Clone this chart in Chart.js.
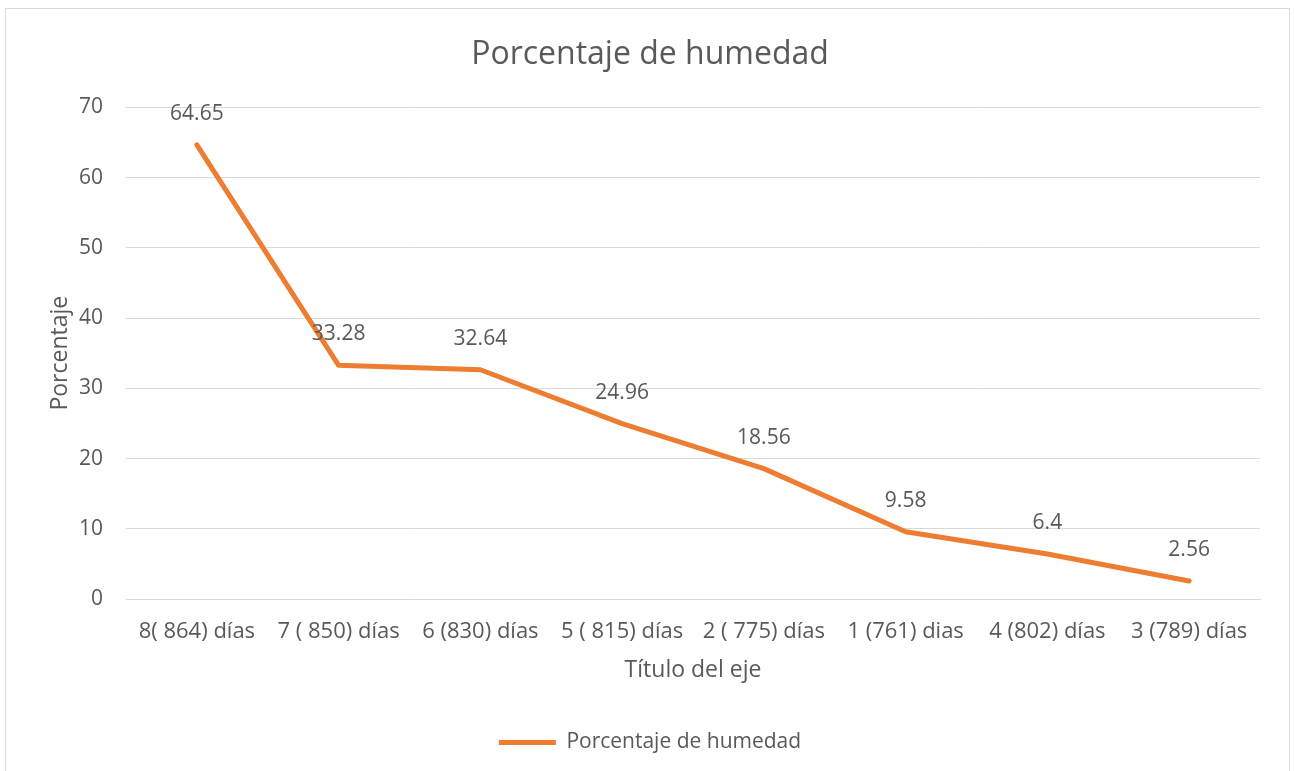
<!DOCTYPE html>
<html>
<head>
<meta charset="utf-8">
<script src="https://cdn.jsdelivr.net/npm/chart.js@4/dist/chart.umd.min.js"></script>
<style>
  html, body { margin: 0; padding: 0; background: #fff; overflow: hidden; }
  #wrap { position: relative; width: 1295px; height: 771px; }
  #frame { position: absolute; left: 5px; top: 8px; width: 1283px; height: 800px;
           border: 1px solid #d9d9d9; pointer-events: none; }
</style>
</head>
<body>
<div id="wrap">
  <canvas id="chart" width="1295" height="771"></canvas>
  <div id="frame"></div>
</div>
<script>
// datos
const categories = ['8( 864) días', '7 ( 850) días', '6 (830) días', '5 ( 815) días',
                    '2 ( 775) días', '1 (761) dias', '4 (802) días', '3 (789) días'];
const humedad = [64.65, 33.28, 32.64, 24.96, 18.56, 9.58, 6.4, 2.56];
const yTicks = [0, 10, 20, 30, 40, 50, 60, 70];

const TEXT = '#595959';
const ORANGE = '#ED7D31';
const GRID = '#d9d9d9';
const FONT = "'Open Sans', sans-serif";

// etiquetas de datos encima de cada punto
const dataLabels = {
  id: 'dataLabels',
  afterDatasetsDraw(chart){
    const ctx = chart.ctx;
    const meta = chart.getDatasetMeta(0);
    ctx.save();
    ctx.font = '21px ' + FONT;
    ctx.fillStyle = TEXT;
    ctx.textAlign = 'center';
    ctx.textBaseline = 'middle';
    meta.data.forEach((pt, i) => {
      ctx.fillText(String(humedad[i]), pt.x, pt.y - 31);
    });
    ctx.restore();
  }
};

const ctx = document.getElementById('chart').getContext('2d');
const chart = new Chart(ctx, {
  type: 'line',
  data: {
    labels: categories,
    datasets: [{
      label: 'Porcentaje de humedad',
      data: humedad,
      borderColor: ORANGE,
      backgroundColor: ORANGE,
      borderWidth: 5,
      borderCapStyle: 'round',
      borderJoinStyle: 'round',
      pointRadius: 0,
      pointHoverRadius: 0,
      pointStyle: 'line',
      tension: 0
    }]
  },
  options: {
    responsive: false,
    animation: false,
    layout: { padding: { left: 40, right: 35, top: 0, bottom: 8 } },
    plugins: {
      title: {
        display: true,
        text: 'Porcentaje de humedad',
        color: TEXT,
        font: { family: FONT, size: 32, weight: 'normal' },
        padding: { top: 36, bottom: 33 }
      },
      legend: {
        position: 'bottom',
        labels: {
          usePointStyle: true,
          pointStyleWidth: 57,
          color: TEXT,
          font: { family: FONT, size: 21 },
          padding: 10
        }
      },
      tooltip: { enabled: false }
    },
    scales: {
      x: {
        offset: true,
        afterFit(scale){ scale.height = 123; },
        grid: { display: false, drawTicks: false },
        border: { display: true, color: GRID, width: 1 },
        ticks: { color: TEXT, font: { family: FONT, size: 22 }, padding: 20, maxRotation: 0, autoSkip: false },
        title: {
          display: true, text: 'Título del eje', color: TEXT,
          font: { family: FONT, size: 23 }, padding: { top: 12, bottom: 38 }
        }
      },
      y: {
        min: 0, max: 70,
        afterFit(scale){ scale.width = 86; },
        afterBuildTicks(scale){ scale.ticks = yTicks.map(v => ({ value: v })); },
        grid: { color: GRID, lineWidth: 1, drawTicks: false },
        border: { display: false },
        ticks: { color: TEXT, font: { family: FONT, size: 21 }, padding: 23 },
        title: {
          display: true, text: 'Porcentaje', color: TEXT,
          font: { family: FONT, size: 23 }, padding: { top: 7, bottom: 5 }
        }
      }
    }
  },
  plugins: [dataLabels]
});
</script>
</body>
</html>
